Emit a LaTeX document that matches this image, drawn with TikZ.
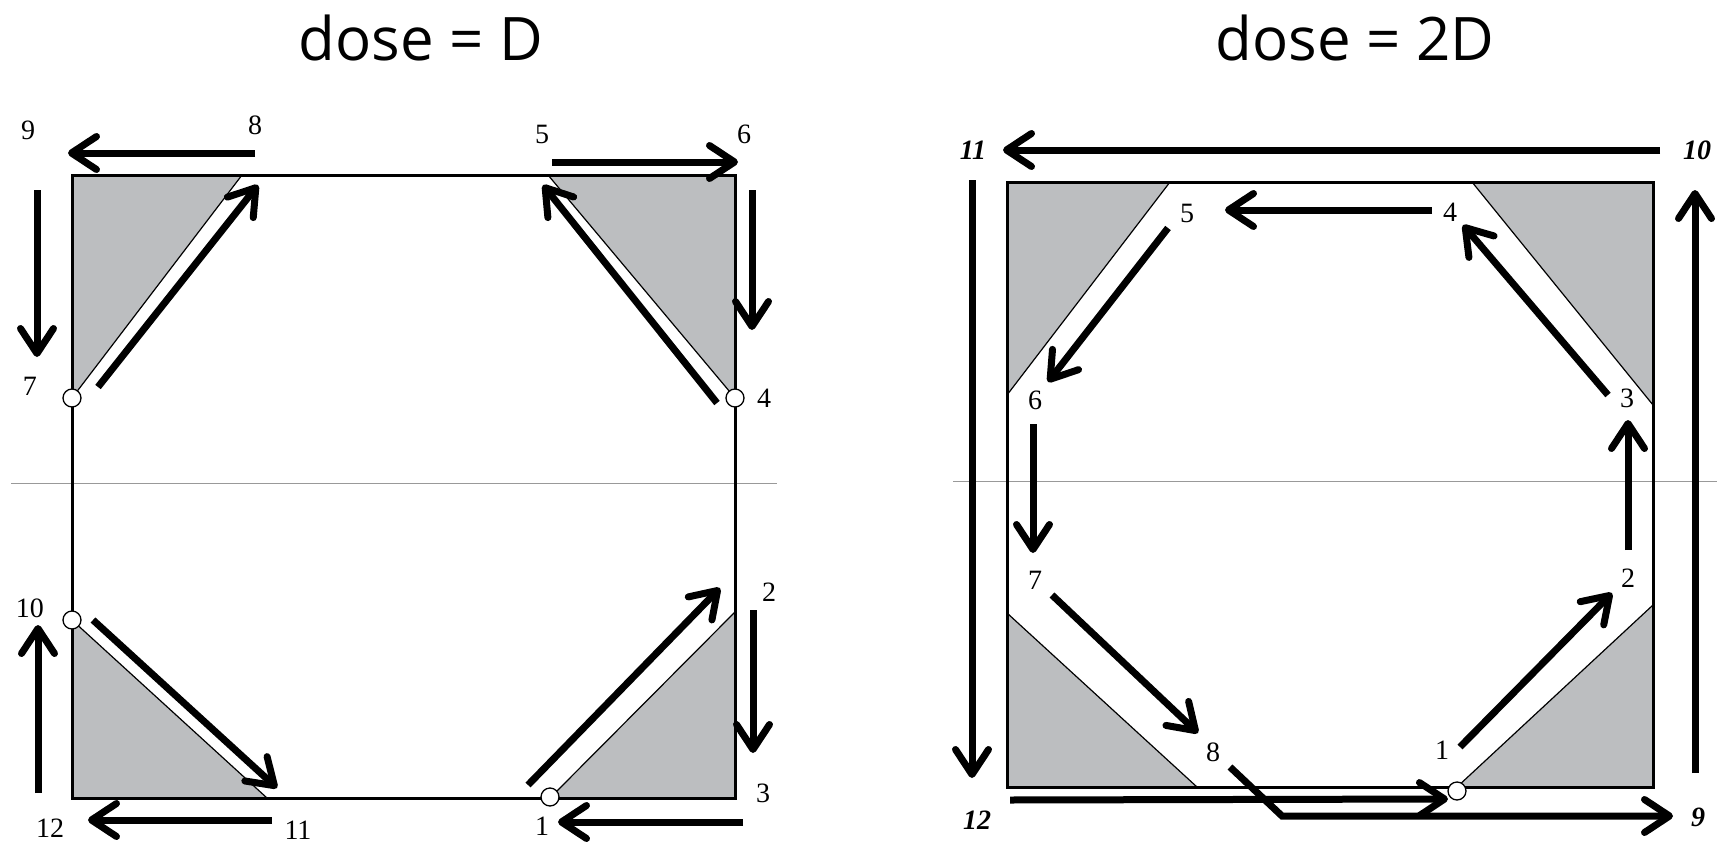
\documentclass[tikz,border=0pt]{standalone}
\usepackage{fontspec}
\setmainfont{Liberation Serif}
\newfontfamily\titlefont{Open Sans}
\usetikzlibrary{arrows.meta}
\definecolor{shade}{RGB}{188,190,192}

\begin{document}
\begin{tikzpicture}[x=1pt, y=-1pt,
    sq/.style={draw, line width=3pt},
    tri/.style={fill=shade, draw, line width=1.2pt, line join=miter},
    flow/.style={line width=7pt, -{Straight Barb[length=25pt,width=33pt,round]}},
    num/.style={font=\fontsize{28}{30}\selectfont, inner sep=1pt},
    bnum/.style={num, font=\fontsize{28}{30}\selectfont\bfseries\itshape},
    hole/.style={circle, draw, fill=white, line width=1.3pt, minimum size=18pt, inner sep=0pt},
    title/.style={font=\titlefont\fontsize{60}{70}\selectfont, anchor=base},
    mid/.style={draw=gray!80, line width=0.8pt}
]
    \useasboundingbox (0,0) rectangle (1717,846);

    % ---- dose = D ----
    \node[title] (tD) at (421,60) {dose = D};
    \draw[tri] (72,398) -- (72,175) -- (242,175) -- cycle;
    \draw[tri] (548,175) -- (735,175) -- (735,398) -- cycle;
    \draw[tri] (72,620) -- (72,798) -- (267,798) -- cycle;
    \draw[tri] (550,798) -- (735,798) -- (735,612) -- cycle;
    \draw[mid] (11,483) -- (777,483);
    \draw[sq] (72,175) rectangle (735,798);
    \node[hole] (c7) at (72,398) {};
    \node[hole] (c4) at (735,398) {};
    \node[hole] (c10) at (72,620) {};
    \node[hole] (c1) at (550,797) {};

    \node[num] (l1) at (542,826) {1};
    \node[num] (l2) at (769,592) {2};
    \node[num] (l3) at (763,793) {3};
    \node[num] (l4) at (764,398) {4};
    \node[num] (l5) at (542,134) {5};
    \node[num] (l6) at (744,134) {6};
    \node[num] (l7) at (30,386) {7};
    \node[num] (l8) at (255,125) {8};
    \node[num] (l9) at (28,130) {9};
    \node[num] (l10) at (30,608) {10};
    \node[num] (l11) at (298,830) {11};
    \node[num] (l12) at (50,828) {12};

    \draw[flow] (528,785) -- (720,588);
    \draw[flow] (753,610) -- (753,753);
    \draw[flow] (743,822) -- (558,822);
    \draw[flow] (717,403) -- (543,185);
    \draw[flow] (552,162) -- (738,162);
    \draw[flow] (752,190) -- (752,330);
    \draw[flow] (98,387) -- (258,185);
    \draw[flow] (255,153) -- (68,153);
    \draw[flow] (37,190) -- (37,357);
    \draw[flow] (93,620) -- (277,788);
    \draw[flow] (272,820) -- (88,820);
    \draw[flow] (38,793) -- (38,625);

    % ---- dose = 2D ----
    \node[title] (t2D) at (1355,60) {dose = 2D};
    \draw[tri] (1007,395) -- (1007,182) -- (1170,182) -- cycle;
    \draw[tri] (1472,182) -- (1653,182) -- (1653,405) -- cycle;
    \draw[tri] (1007,613) -- (1007,787) -- (1197,787) -- cycle;
    \draw[tri] (1457,787) -- (1653,787) -- (1653,605) -- cycle;
    \draw[mid] (953,481) -- (1717,481);
    \draw[sq] (1007,182) rectangle (1653,787);

    \node[num] (r1) at (1442,750) {1};
    \node[num] (r2) at (1628,578) {2};
    \node[num] (r3) at (1627,398) {3};
    \node[num] (r4) at (1450,212) {4};
    \node[num] (r5) at (1187,213) {5};
    \node[num] (r6) at (1035,400) {6};
    \node[num] (r7) at (1035,580) {7};
    \node[num] (r8) at (1213,752) {8};
    \node[bnum] (r9) at (1698,817) {9};
    \node[bnum] (r10) at (1697,150) {10};
    \node[bnum] (r11) at (973,150) {11};
    \node[bnum] (r12) at (977,820) {12};

    \draw[flow] (1460,747) -- (1612,593);
    \draw[flow] (1628,550) -- (1628,420);
    \draw[flow] (1608,395) -- (1463,225);
    \draw[flow] (1432,210) -- (1225,210);
    \draw[flow] (1168,228) -- (1048,382);
    \draw[flow] (1033,424) -- (1033,553);
    \draw[flow] (1052,595) -- (1198,733);
    \draw[flow, line join=miter] (1230,767) -- (1282,816) -- (1673,816);
    \draw[flow] (1695,773) -- (1695,190);
    \draw[flow] (1660,150) -- (1003,150);
    \draw[flow] (972,180) -- (972,778);
    \draw[flow] (1010,800) -- (1448,799);
    \node[hole] (rc1) at (1457,791) {};
\end{tikzpicture}
\end{document}
